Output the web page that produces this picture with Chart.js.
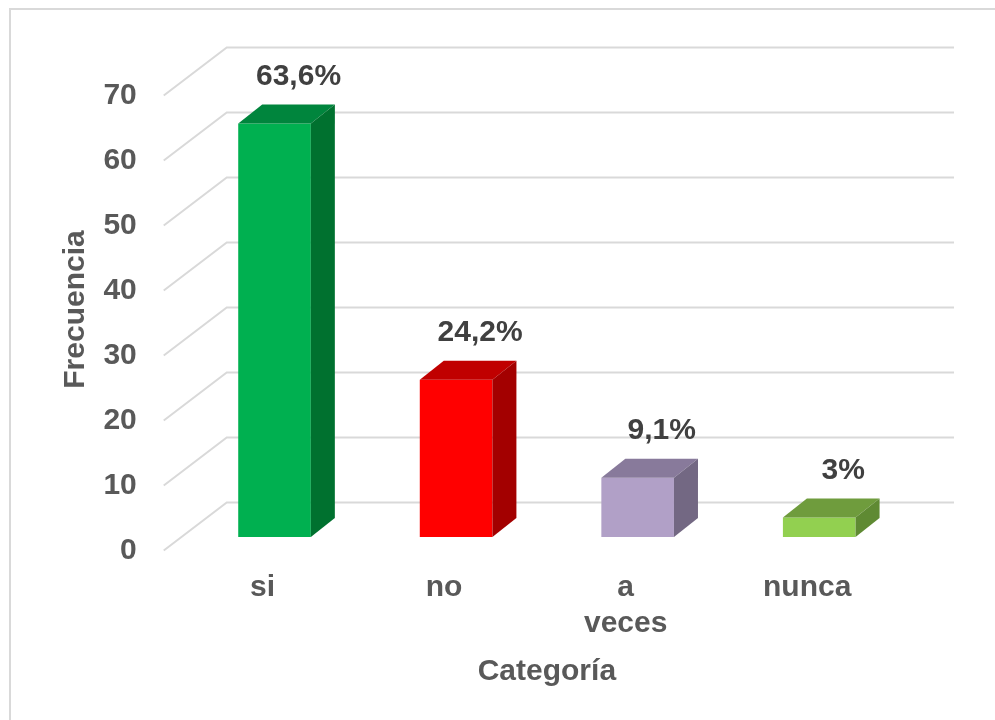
<!DOCTYPE html>
<html>
<head>
<meta charset="utf-8">
<script src="https://cdn.jsdelivr.net/npm/chart.js@4/dist/chart.umd.min.js"></script>
<style>
  html, body { margin: 0; padding: 0; background: #fff; }
  canvas { display: block; }
</style>
</head>
<body>
<canvas id="freqChart" width="995" height="720"></canvas>
<script>
const CATEGORIES = ["si", "no", ["a", "veces"], "nunca"];
const FRECUENCIA = [63.6, 24.2, 9.1, 3];
const Y_MIN = 0;
const Y_MAX = 70;
const Y_STEP = 10;

const FRONT_COLORS = ["#00B050", "#FF0000", "#B1A0C7", "#92D050"];
const TOP_COLORS = ["#00853D", "#C00000", "#887A9B", "#6F9C3D"];
const SIDE_COLORS = ["#00712F", "#A30000", "#736883", "#5F8A33"];

const TEXT = "#595959";
const GRID = "#D9D9D9";
// bar depth (projection of the 3D box)
const DX = 24, DY = -19;

Chart.defaults.font.family = "'Liberation Sans', Arial, sans-serif";
Chart.defaults.font.weight = "bold";
Chart.defaults.color = TEXT;

function pct(v) {
  return String(v).replace(".", ",") + "%";
}

const frame = {
  id: "frame",
  beforeDraw(chart) {
    const ctx = chart.ctx;
    ctx.save();
    ctx.strokeStyle = GRID;
    ctx.lineWidth = 2;
    ctx.beginPath();
    ctx.moveTo(10, 720);
    ctx.lineTo(10, 9);
    ctx.lineTo(995, 9);
    ctx.stroke();
    ctx.restore();
  }
};

const wallGrid = {
  id: "wallGrid",
  beforeDatasetsDraw(chart) {
    const { ctx, chartArea, scales } = chart;
    const y = scales.y;
    ctx.save();
    ctx.strokeStyle = GRID;
    ctx.lineWidth = 2;
    y.ticks.forEach(t => {
      const py = y.getPixelForValue(t.value);
      ctx.beginPath();
      ctx.moveTo(chartArea.left - 20, py + 13.5);
      ctx.lineTo(chartArea.left + 43, py - 34.5);
      ctx.lineTo(chartArea.right + 44, py - 34.5);
      ctx.stroke();
    });
    ctx.restore();
  }
};

const bar3d = {
  id: "bar3d",
  afterDatasetsDraw(chart) {
    const ctx = chart.ctx;
    const meta = chart.getDatasetMeta(0);
    ctx.save();
    meta.data.forEach((bar, i) => {
      const l = bar.x - bar.width / 2;
      const r = bar.x + bar.width / 2;
      const top = bar.y;
      const base = bar.base;

      ctx.fillStyle = TOP_COLORS[i];
      ctx.beginPath();
      ctx.moveTo(l, top);
      ctx.lineTo(l + DX, top + DY);
      ctx.lineTo(r + DX, top + DY);
      ctx.lineTo(r, top);
      ctx.closePath();
      ctx.fill();

      ctx.fillStyle = SIDE_COLORS[i];
      ctx.beginPath();
      ctx.moveTo(r, top);
      ctx.lineTo(r + DX, top + DY);
      ctx.lineTo(r + DX, base + DY);
      ctx.lineTo(r, base);
      ctx.closePath();
      ctx.fill();

      ctx.fillStyle = "#404040";
      ctx.font = "bold 30px 'Liberation Sans', Arial, sans-serif";
      ctx.textAlign = "center";
      ctx.textBaseline = "middle";
      ctx.fillText(pct(FRECUENCIA[i]), bar.x + DX, top + DY - 28);
    });
    ctx.restore();
  }
};

new Chart(document.getElementById("freqChart").getContext("2d"), {
  type: "bar",
  data: {
    labels: CATEGORIES,
    datasets: [{
      data: FRECUENCIA,
      backgroundColor: FRONT_COLORS,
      borderWidth: 0,
      barPercentage: 0.4,
      categoryPercentage: 1
    }]
  },
  options: {
    responsive: false,
    devicePixelRatio: 1,
    animation: false,
    layout: { padding: { top: 82, left: 10, right: 85, bottom: 10 } },
    plugins: {
      legend: { display: false },
      tooltip: { enabled: false }
    },
    scales: {
      x: {
        grid: { display: false, drawTicks: false },
        border: { display: false },
        ticks: {
          font: { size: 30 },
          padding: 33,
          labelOffset: -12,
          maxRotation: 0,
          autoSkip: false
        },
        title: {
          display: true,
          text: "Categoría",
          font: { size: 30 },
          padding: { top: 12, bottom: 20 }
        },
        afterFit(scale) {
          scale.height = 173;
        }
      },
      y: {
        min: Y_MIN,
        max: Y_MAX,
        grid: { display: false, drawTicks: false },
        border: { display: false },
        ticks: {
          stepSize: Y_STEP,
          font: { size: 30 },
          padding: 47,
          labelOffset: 13.5
        },
        title: {
          display: true,
          text: "Frecuencia",
          font: { size: 30 },
          padding: { top: 48, bottom: 0 }
        },
        afterFit(scale) {
          scale.width = 173.75;
        }
      }
    }
  },
  plugins: [frame, wallGrid, bar3d]
});
</script>
</body>
</html>
